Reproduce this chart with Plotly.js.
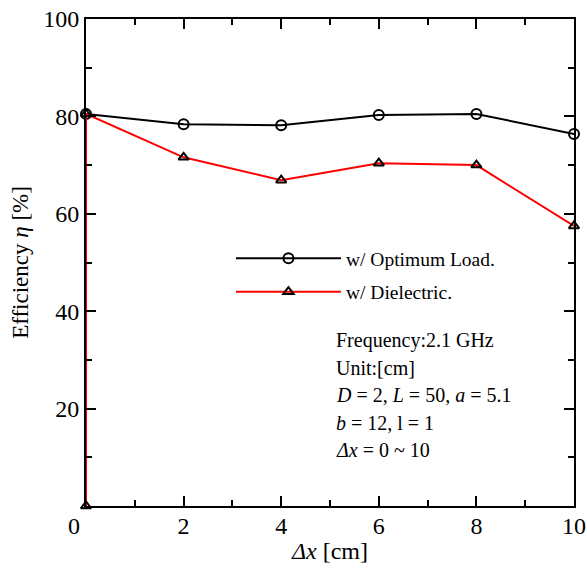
<!DOCTYPE html>
<html><head><meta charset="utf-8">
<script src="https://cdn.plot.ly/plotly-3.0.1.min.js"></script>
<style>body{margin:0;background:#fff}#c{width:587px;height:570px}</style>
</head><body><div id="c"></div>
<script>
const xOpt = [0, 2, 4, 6, 8, 10];
const yOpt = [80.5, 78.4, 78.2, 80.3, 80.5, 76.4];
const xDie = [0, 0, 2, 4, 6, 8, 10];
const yDie = [0, 80.5, 71.6, 66.9, 70.4, 70.0, 57.5];
const nameOpt = 'w/ Optimum Load.';
const nameDie = 'w/ Dielectric.';
const xTickVals = [0, 2, 4, 6, 8, 10];
const xTickText = ['0\u00a0\u00a0\u00a0\u00a0', '2', '4', '6', '8', '10'];
const yTickVals = [20, 40, 60, 80, 100];
const yTickText = ['20', '40', '60', '80', '100'];
const infoLines = ['Frequency:2.1 GHz', 'Unit:[cm]',
  '<i>D</i> = 2, <i>L</i> = 50, <i>a</i> = 5.1',
  '<i>b</i> = 12, l = 1', '<i>Δx</i> = 0 ~ 10'];

const F = 'Liberation Serif, Times New Roman, serif';
const traces = [
  {x: xOpt, y: yOpt, name: nameOpt, legendgroup: 'a', mode: 'lines+markers', cliponaxis: false,
   line: {color: '#000', width: 2},
   marker: {symbol: 'circle-open', size: 10, color: '#000', line: {width: 2}}},
  {x: xDie, y: yDie, name: nameDie, legendgroup: 'b', mode: 'lines+markers', cliponaxis: false,
   line: {color: '#ff0000', width: 2},
   marker: {symbol: 'triangle-up-open', size: 9, color: '#000', line: {width: 2}}}
];
const annotations = infoLines.map((t, i) => ({
  text: t, xref: 'paper', yref: 'paper', x: 0.508, y: (506 - 340 - i * 27.5) / 487,
  xanchor: 'left', yanchor: 'middle', showarrow: false, align: 'left',
  font: {family: F, size: 20, color: '#000'}
}));
const axisCommon = {
  showgrid: false, zeroline: false, showline: true, linecolor: '#000', linewidth: 2,
  mirror: 'allticks', ticks: 'inside', ticklen: 10, tickwidth: 2, tickcolor: '#000',
  tickfont: {family: F, size: 24, color: '#000'}
};
const layout = {
  width: 587, height: 570,
  margin: {l: 86, r: 13, t: 19, b: 64},
  paper_bgcolor: '#fff', plot_bgcolor: '#fff',
  font: {family: F, color: '#000'},
  xaxis: Object.assign({}, axisCommon, {range: [0, 10],
    tickmode: 'array', tickvals: xTickVals, ticktext: xTickText,
    ticklabelstandoff: -3,
    minor: {ticks: 'inside', ticklen: 6, dtick: 1, tickwidth: 2, tickcolor: '#000'},
    title: {text: '<i>Δx</i> [cm]', font: {family: F, size: 24}, standoff: 4}}),
  yaxis: Object.assign({}, axisCommon, {range: [0, 100],
    tickmode: 'array', tickvals: yTickVals, ticktext: yTickText,
    minor: {ticks: 'inside', ticklen: 6, dtick: 10, tickwidth: 2, tickcolor: '#000'},
    title: {text: 'Efficiency <i>η</i> [%]', font: {family: F, size: 23}, standoff: 8}}),
  showlegend: true,
  legend: {x: 0.297, y: 0.548, xanchor: 'left', yanchor: 'top', bgcolor: 'rgba(0,0,0,0)',
    font: {family: F, size: 19.5, color: '#000'}, itemwidth: 105, tracegroupgap: 5,
    traceorder: 'grouped'},
  annotations: annotations
};
Plotly.newPlot('c', traces, layout, {displayModeBar: false});
</script></body></html>
